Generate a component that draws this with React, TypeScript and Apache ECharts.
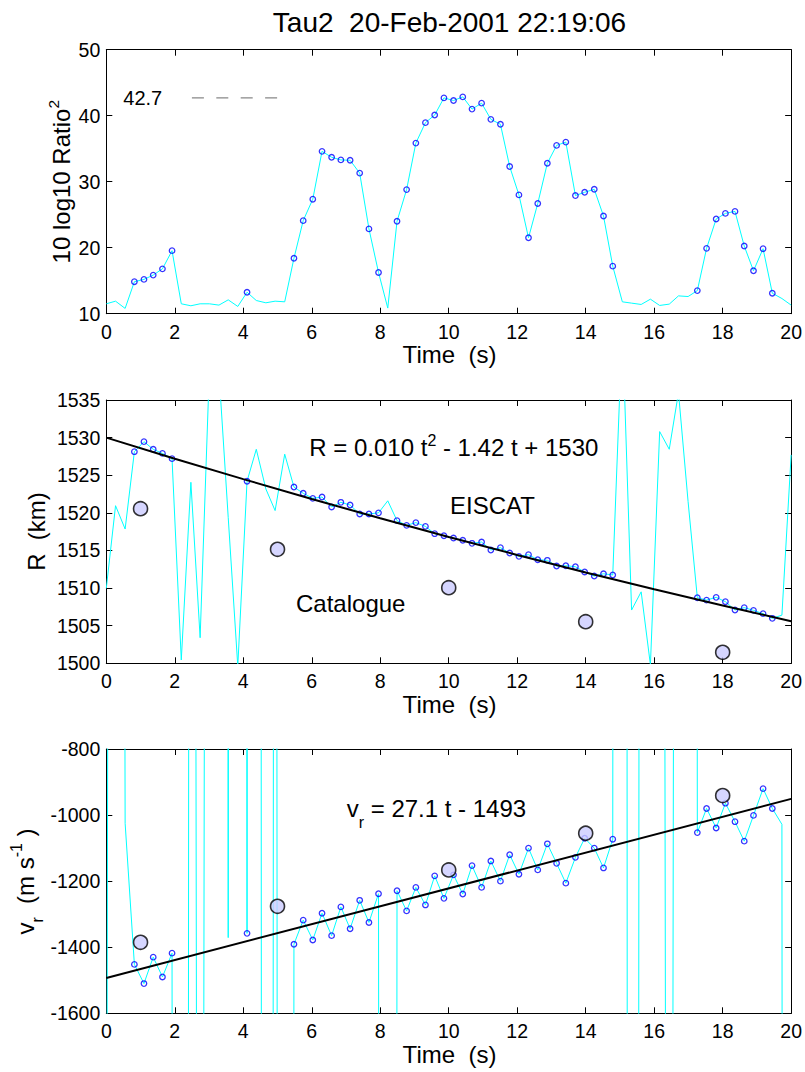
import React, { useEffect, useRef } from 'react';
import * as echarts from 'echarts';

// ---------------- data ----------------
const time = [0, 0.27, 0.55, 0.82, 1.10, 1.37, 1.64, 1.92, 2.19, 2.47, 2.74, 3.01, 3.29, 3.56, 3.84, 4.11, 4.38, 4.66, 4.93, 5.21,
  5.48, 5.75, 6.03, 6.30, 6.58, 6.85, 7.12, 7.40, 7.67, 7.95, 8.22, 8.49, 8.77, 9.04, 9.32, 9.59, 9.86, 10.14, 10.41, 10.68,
  10.96, 11.23, 11.51, 11.78, 12.05, 12.33, 12.60, 12.88, 13.15, 13.42, 13.70, 13.97, 14.25, 14.52, 14.79, 15.07, 15.34, 15.62, 15.89, 16.16,
  16.44, 16.71, 16.99, 17.26, 17.53, 17.81, 18.08, 18.36, 18.63, 18.90, 19.18, 19.45, 19.73, 20.00];

const snrDb = [11.5, 11.9, 10.8, 14.85, 15.2, 15.85, 16.8, 19.55, 11.5, 11.2, 11.5, 11.5, 11.3, 12.1, 11.1, 13.25, 12.0, 11.65, 11.9, 11.8,
  18.4, 24.1, 27.35, 34.6, 33.7, 33.3, 33.25, 31.3, 22.85, 16.25, 10.85, 24.0, 28.8, 35.85, 38.95, 40.1, 42.7, 42.3, 42.85, 41.0,
  41.9, 39.45, 38.7, 32.3, 28.0, 21.5, 26.7, 32.8, 35.5, 36.0, 27.9, 28.4, 28.85, 24.8, 17.2, 11.8, 11.6, 11.4, 12.2, 11.25,
  11.45, 12.7, 12.6, 13.5, 19.9, 24.35, 25.2, 25.5, 20.25, 16.5, 19.85, 13.1, 12.3, 11.3];

const detected = [0, 0, 0, 1, 1, 1, 1, 1, 0, 0, 0, 0, 0, 0, 0, 1, 0, 0, 0, 0,
  1, 1, 1, 1, 1, 1, 1, 1, 1, 1, 0, 1, 1, 1, 1, 1, 1, 1, 1, 1,
  1, 1, 1, 1, 1, 1, 1, 1, 1, 1, 1, 1, 1, 1, 1, 0, 0, 0, 0, 0,
  0, 0, 0, 1, 1, 1, 1, 1, 1, 1, 1, 1, 0, 0];

const rangeKm = [1509.97, 1520.95, 1517.85, 1528.13, 1529.46, 1528.45, 1527.9, 1527.2, 1500.44, 1524.06, 1503.4, 1539, 1538.7, 1519.4, 1499.6, 1524.2, 1528.45, 1523.17, 1520.3, 1527.8,
  1523.43, 1522.6, 1521.93, 1522.1, 1520.78, 1521.4, 1521.04, 1519.85, 1519.85, 1520.0, 1521.6, 1518.96, 1518.34, 1518.7, 1518.2, 1517.23, 1516.96, 1516.65, 1516.35, 1515.95,
  1516.12, 1515.06, 1515.37, 1514.66, 1514.22, 1514.44, 1513.77, 1513.69, 1512.93, 1512.97, 1512.84, 1512.14, 1511.6, 1511.9, 1511.74, 1545, 1507.08, 1509.5, 1499.8, 1530.8,
  1528.45, 1536, 1521.5, 1508.72, 1508.4, 1508.77, 1508.19, 1507.08, 1507.4, 1507.04, 1506.6, 1505.98, 1506.4, 1527.7];

const velMs = [-3000, 12000, -1025, -1452, -1510, -1430, -1490, -1418, -30000, 8000, -8000, 8000, 30000, -1371, 30000, -1358, 30000, -30000, 6000, -30000,
  -1391, -1318, -1378, -1297, -1365, -1278, -1344, -1258, -1325, -1238, -30000, -1229, -1290, -1219, -1272, -1184, -1252, -1181, -1239, -1153,
  -1219, -1139, -1200, -1120, -1179, -1100, -1166, -1087, -1146, -1206, -1128, -1070, -1100, -1160, -1073, 30000, -30000, 8000, 9000, 8000,
  -8000, 8000, 30000, -1053, -980, -1039, -964, -1020, -1079, -1001, -920, -980, -1028, -30000];

const catalogueT = [1, 5, 10, 14, 18];
const catalogueR = [1520.55, 1515.15, 1510.05, 1505.53, 1501.46];
const catalogueV = [-1385, -1276, -1166, -1055, -941];

const rFitT = [0, 2, 4, 6, 8, 10, 12, 14, 16, 18, 20];
const rFitKm = [1530, 1527.2, 1524.48, 1521.84, 1519.28, 1516.8, 1514.4, 1512.08, 1509.84, 1507.68, 1505.6];
const vFitT = [0, 20];
const vFitMs = [-1493, -951];

const peakDb = 42.7;
const peakSpanT = [2.5, 5.0];

const titleText = 'Tau2  20-Feb-2001 22:19:06';

// ---------------- layout ----------------
const FF = '"Liberation Sans", Arial, Helvetica, sans-serif';
const PLOT_LEFT = 106.3;
const PLOT_W = 686.4;
const grids = [
  { top: 49.7, height: 264 },
  { top: 400, height: 263.3 },
  { top: 749, height: 264.3 },
];
const yRanges = [
  { min: 10, max: 50, interval: 10 },
  { min: 1500, max: 1535, interval: 5 },
  { min: -1600, max: -800, interval: 200 },
];

let measureCtx: CanvasRenderingContext2D | null = null;
function measure(text: string, size: number) {
  if (!measureCtx) measureCtx = document.createElement('canvas').getContext('2d');
  measureCtx!.font = `${size}px "Liberation Sans", Arial, sans-serif`;
  return measureCtx!.measureText(text).width;
}

type Seg = { text: string; size: number; dy?: number };
function segWidth(segs: Seg[]) {
  return segs.reduce((s, g) => s + measure(g.text, g.size), 0);
}
function segTexts(segs: Seg[], x0: number, baseline: number) {
  let cur = x0;
  return segs.map((g) => {
    const el = {
      type: 'text',
      x: cur,
      y: baseline + (g.dy || 0) - 0.35 * g.size,
      silent: true,
      style: { text: g.text, fontSize: g.size, fontFamily: FF, fill: '#000', align: 'left', verticalAlign: 'middle' },
    };
    cur += measure(g.text, g.size);
    return el;
  });
}
function hText(segs: Seg[], left: number, baseline: number) {
  return { type: 'group', children: segTexts(segs, left, baseline) };
}
function centeredText(segs: Seg[], cx: number, baseline: number) {
  return { type: 'group', children: segTexts(segs, cx - segWidth(segs) / 2, baseline) };
}
function vText(segs: Seg[], cx: number, cy: number) {
  const main = segs[0].size;
  return {
    type: 'group',
    x: cx,
    y: cy,
    rotation: Math.PI / 2,
    children: segTexts(segs, -segWidth(segs) / 2, 0.358 * main),
  };
}

function buildOption() {
  const xAxis: any[] = [];
  const yAxis: any[] = [];
  const grid = grids.map((g) => ({ left: PLOT_LEFT, top: g.top, width: PLOT_W, height: g.height }));
  const plain = (v: number) => String(v);
  grids.forEach((_, i) => {
    const common = {
      type: 'value',
      gridIndex: i,
      axisLine: { show: true, onZero: false, lineStyle: { color: '#000', width: 1 } },
      axisTick: { show: true, inside: true, length: 6, lineStyle: { color: '#000', width: 1 } },
      splitLine: { show: false },
    };
    xAxis.push({ ...common, min: 0, max: 20, interval: 2, position: 'bottom',
      axisLabel: { color: '#000', fontSize: 19.5, fontFamily: FF, margin: 8, formatter: plain } });
    xAxis.push({ ...common, min: 0, max: 20, interval: 2, position: 'top', axisLabel: { show: false } });
    yAxis.push({ ...common, ...yRanges[i], position: 'left',
      axisLabel: { color: '#000', fontSize: 19.5, fontFamily: FF, margin: 6, formatter: plain } });
    yAxis.push({ ...common, ...yRanges[i], position: 'right', axisLabel: { show: false } });
  });

  const zip = (xs: number[], ys: number[]) => xs.map((x, i) => [x, ys[i]]);
  const picked = (ys: number[]) => time.map((t, i) => [t, ys[i]]).filter((_, i) => detected[i] === 1);

  const cyan = (name: string, ys: number[], p: number) => ({
    name, type: 'line', xAxisIndex: 2 * p, yAxisIndex: 2 * p, data: zip(time, ys),
    showSymbol: false, symbol: 'none', lineStyle: { color: '#00ffff', width: 1 }, z: 2, clip: true,
  });
  const marks = (name: string, ys: number[], p: number) => ({
    name, type: 'scatter', xAxisIndex: 2 * p, yAxisIndex: 2 * p, data: picked(ys),
    symbol: 'circle', symbolSize: 5.5,
    itemStyle: { color: 'rgba(255,255,255,0)', borderColor: '#0000ff', borderWidth: 1.3 }, z: 3, clip: true,
  });
  const fit = (name: string, xs: number[], ys: number[], p: number) => ({
    name, type: 'line', xAxisIndex: 2 * p, yAxisIndex: 2 * p, data: zip(xs, ys),
    showSymbol: false, symbol: 'none', lineStyle: { color: '#000', width: 2 }, z: 4, clip: true,
  });
  const cat = (name: string, ys: number[], p: number) => ({
    name, type: 'scatter', xAxisIndex: 2 * p, yAxisIndex: 2 * p, data: zip(catalogueT, ys),
    symbol: 'circle', symbolSize: 14,
    itemStyle: { color: '#ccccff', borderColor: '#000', borderWidth: 1.6 }, z: 5, clip: true,
  });

  const series: any[] = [
    cyan('snr', snrDb, 0),
    marks('snrDetected', snrDb, 0),
    {
      name: 'peak', type: 'line', xAxisIndex: 0, yAxisIndex: 0,
      data: peakSpanT.map((t) => [t, peakDb]), showSymbol: false, symbol: 'none',
      lineStyle: { color: '#888', width: 1.3, type: [12, 12.4] }, z: 2,
    },
    cyan('range', rangeKm, 1),
    marks('rangeDetected', rangeKm, 1),
    fit('rangeFit', rFitT, rFitKm, 1),
    cat('rangeCatalogue', catalogueR, 1),
    cyan('vel', velMs, 2),
    marks('velDetected', velMs, 2),
    fit('velFit', vFitT, vFitMs, 2),
    cat('velCatalogue', catalogueV, 2),
  ];

  const cx = PLOT_LEFT + PLOT_W / 2;
  const graphic: any[] = [
    centeredText([{ text: titleText, size: 28 }], cx, 32.3),
    ...grids.map((g) => centeredText([{ text: 'Time  (s)', size: 24 }], cx, g.top + g.height + 49.6)),
    vText([{ text: '10 log10 Ratio', size: 24 }, { text: '2', size: 15.5, dy: -11 }], 61.7, 181.7),
    vText([{ text: 'R  (km)', size: 24 }], 36.7, 531.5),
    vText([
      { text: 'v', size: 24 }, { text: 'r', size: 16, dy: 10 }, { text: '  (m s', size: 24 },
      { text: '-1', size: 16, dy: -11 }, { text: ' )', size: 24 },
    ], 24.9, 881.5),
    hText([{ text: String(peakDb), size: 20 }], 123.3, 105.4),
    hText([
      { text: 'R = 0.010 t', size: 24 }, { text: '2', size: 16, dy: -10 }, { text: ' - 1.42 t + 1530', size: 24 },
    ], 309.3, 456),
    hText([{ text: 'EISCAT', size: 24 }], 450, 514),
    hText([{ text: 'Catalogue', size: 24 }], 296, 611.7),
    hText([
      { text: 'v', size: 24 }, { text: 'r', size: 16, dy: 11 }, { text: ' = 27.1 t - 1493', size: 24 },
    ], 346.7, 817.3),
  ];

  return {
    animation: false,
    backgroundColor: '#ffffff',
    grid,
    xAxis,
    yAxis,
    series,
    graphic,
  };
}

export default function App() {
  const ref = useRef<HTMLDivElement>(null);
  useEffect(() => {
    if (!ref.current) return;
    const chart = echarts.init(ref.current, undefined, { renderer: 'svg' });
    chart.setOption(buildOption() as any);
    return () => chart.dispose();
  }, []);
  return (
    <div
      ref={ref}
      style={{ position: 'absolute', left: 0, top: 0, width: 805, height: 1072, background: '#fff' }}
    />
  );
}
